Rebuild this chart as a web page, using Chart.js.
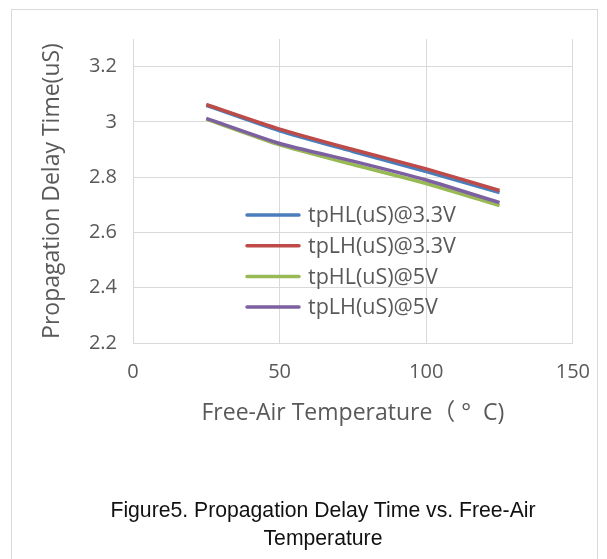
<!DOCTYPE html>
<html>
<head>
<meta charset="utf-8">
<script src="https://cdn.jsdelivr.net/npm/chart.js@4/dist/chart.umd.min.js"></script>
<style>
  body { margin: 0; background: #fff; }
  #frame { position: absolute; left: 11px; top: 9px; width: 587px; height: 560px; border: 1px solid #d9d9d9; box-sizing: border-box; }
  #myChart { position: absolute; left: 0; top: 0; }
  #caption { position: absolute; left: 73px; top: 496px; width: 500px; text-align: center;
    font: 21.2px "Liberation Sans", Arial, sans-serif; line-height: 28px; color: #111; }
</style>
</head>
<body>
<div id="frame"></div>
<canvas id="myChart" width="607" height="559"></canvas>
<div id="caption">Figure5. Propagation Delay Time vs. Free-Air<br>Temperature</div>
<script>
// temperatures (°C) and delay values (uS)
const temps = [25, 50, 75, 100, 125];
const tpHL33 = [3.06, 2.968, 2.893, 2.82, 2.744];
const tpLH33 = [3.063, 2.974, 2.9, 2.83, 2.752];
const tpHL5 = [3.01, 2.917, 2.846, 2.777, 2.697];
const tpLH5 = [3.013, 2.922, 2.858, 2.79, 2.708];
const seriesNames = ["tpHL(uS)@3.3V", "tpLH(uS)@3.3V", "tpHL(uS)@5V", "tpLH(uS)@5V"];
const xTicks = [0, 50, 100, 150];
const yTicks = [2.2, 2.4, 2.6, 2.8, 3, 3.2];

const font = '"Open Sans", "Noto Sans CJK SC", sans-serif';
const textColor = "#595959";
const gridColor = "#d9d9d9";

function points(vals) {
  return temps.map((t, i) => ({ x: t, y: vals[i] }));
}

// legend sits inside the plot, like the excel one
const innerLegend = {
  id: "innerLegend",
  afterDatasetsDraw(chart) {
    const c = chart.ctx;
    c.save();
    chart.data.datasets.forEach((ds, i) => {
      const y = 215 + i * 30.7;
      c.strokeStyle = ds.borderColor;
      c.lineWidth = 3.5;
      c.lineCap = "round";
      c.beginPath();
      c.moveTo(247, y);
      c.lineTo(299, y);
      c.stroke();
      c.fillStyle = textColor;
      c.font = "21.5px " + font;
      c.textBaseline = "middle";
      c.fillText(ds.label, 308, y + 1);
    });
    c.restore();
  }
};

const ctx = document.getElementById("myChart");
const myChart = new Chart(ctx, {
  type: "line",
  data: {
    datasets: [
      { label: seriesNames[0], data: points(tpHL33), borderColor: "#4A7EBB", order: 2 },
      { label: seriesNames[1], data: points(tpLH33), borderColor: "#BE4B48", order: 1 },
      { label: seriesNames[2], data: points(tpHL5), borderColor: "#98B954", order: 2 },
      { label: seriesNames[3], data: points(tpLH5), borderColor: "#7D60A0", order: 1 },
    ],
  },
  options: {
    responsive: false,
    animation: false,
    layout: { padding: { left: 30, right: 33, top: 39, bottom: 132 } },
    elements: {
      point: { radius: 0 },
      line: { borderWidth: 3.5, tension: 0.2, fill: false },
    },
    plugins: { legend: { display: false }, tooltip: { enabled: false } },
    scales: {
      x: {
        type: "linear",
        min: 0,
        max: 150,
        afterBuildTicks: (axis) => { axis.ticks = xTicks.map((v) => ({ value: v })); },
        afterFit: (axis) => { axis.height = 84; },
        grid: { color: gridColor, drawTicks: false },
        border: { color: gridColor },
        ticks: { padding: 17, color: textColor, font: { family: font, size: 20 } },
        title: {
          display: true,
          text: "Free-Air Temperature（ °  C)",
          color: textColor,
          font: { family: font, size: 23 },
          padding: { top: 0, bottom: 0 },
        },
      },
      y: {
        min: 2.2,
        max: 3.3,
        afterBuildTicks: (axis) => { axis.ticks = yTicks.map((v) => ({ value: v })); },
        afterFit: (axis) => { axis.width = 103; },
        grid: { color: gridColor, drawTicks: false },
        border: { color: gridColor },
        ticks: {
          padding: 16,
          color: textColor,
          font: { family: font, size: 20 },
          callback: (v) => String(Math.round(v * 10) / 10),
        },
        title: {
          display: true,
          text: "Propagation Delay Time(uS)",
          color: textColor,
          font: { family: font, size: 23 },
          padding: { top: 9, bottom: 0 },
        },
      },
    },
  },
  plugins: [innerLegend],
});
</script>
</body>
</html>
